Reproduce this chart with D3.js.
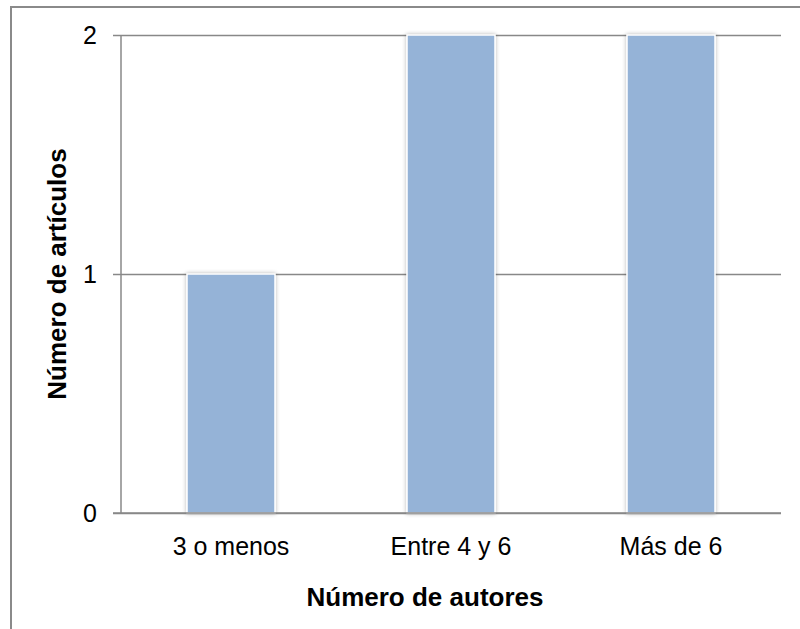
<!DOCTYPE html>
<html>
<head>
<meta charset="utf-8">
<script src="https://cdn.jsdelivr.net/npm/d3@7"></script>
<style>
  html, body { margin: 0; padding: 0; background: #fff; }
  svg { display: block; font-family: "Liberation Sans", Arial, sans-serif; }
</style>
</head>
<body>
<svg id="chart" width="800" height="629"></svg>
<script>
const categories = ["3 o menos", "Entre 4 y 6", "Más de 6"];
const articles = [1, 2, 2];
const yTicks = [0, 1, 2];
const xTitle = "Número de autores";
const yTitle = "Número de artículos";

const svg = d3.select("#chart");
const W = 800, H = 629;
const plot = { left: 121, right: 781, top: 35, bottom: 513 };
const frame = { left: 11, top: 7 };
const FONT = "Liberation Sans, Arial, sans-serif";

// outer chart frame: top and left edges (it runs past the right and bottom edges)
const frameG = svg.append("g").attr("stroke", "#8a8a8a").attr("stroke-width", 2);
frameG.append("line")
  .attr("x1", frame.left - 1).attr("x2", W)
  .attr("y1", frame.top).attr("y2", frame.top);
frameG.append("line")
  .attr("x1", frame.left).attr("x2", frame.left)
  .attr("y1", frame.top - 1).attr("y2", H);

const x = d3.scaleBand().domain(categories)
  .range([plot.left, plot.right]).paddingInner(0.6).paddingOuter(0.3);
const y = d3.scaleLinear().domain([0, 2]).range([plot.bottom, plot.top]);

const defs = svg.append("defs");
const shadow = defs.append("filter").attr("id", "barShadow")
  .attr("x", "-20%").attr("y", "-5%").attr("width", "140%").attr("height", "110%");
shadow.append("feGaussianBlur").attr("in", "SourceAlpha").attr("stdDeviation", 2).attr("result", "b");
shadow.append("feComponentTransfer").attr("in", "b").attr("result", "s")
  .append("feFuncA").attr("type", "linear").attr("slope", 0.3);
const merge = shadow.append("feMerge");
merge.append("feMergeNode").attr("in", "s");
merge.append("feMergeNode").attr("in", "SourceGraphic");

// horizontal gridlines with left tick marks
const yAxis = d3.axisLeft(y).tickValues(yTicks).tickFormat(d3.format("d"))
  .tickSize(-(plot.right - plot.left)).tickPadding(24);
const gy = svg.append("g").attr("transform", `translate(${plot.left},0)`).call(yAxis);
gy.select(".domain").remove();
gy.selectAll(".tick line")
  .attr("x1", -8)
  .attr("stroke", "#888").attr("stroke-width", 1.5);
gy.selectAll(".tick text")
  .attr("font-size", 25).attr("fill", "#000")
  .attr("font-family", FONT);

// vertical axis line
svg.append("line")
  .attr("x1", plot.left).attr("x2", plot.left)
  .attr("y1", plot.top).attr("y2", plot.bottom)
  .attr("stroke", "#888").attr("stroke-width", 1.5);

// bars
svg.append("g").selectAll("rect").data(categories).join("rect")
  .attr("x", d => x(d))
  .attr("y", (d, i) => y(articles[i]))
  .attr("width", x.bandwidth())
  .attr("height", (d, i) => y(0) - y(articles[i]))
  .attr("fill", "#95b3d7")
  .attr("stroke", "#fff").attr("stroke-width", 1.5)
  .attr("filter", "url(#barShadow)");

// redraw baseline over the bars
svg.append("line")
  .attr("x1", plot.left - 8).attr("x2", plot.right)
  .attr("y1", y(0)).attr("y2", y(0))
  .attr("stroke", "#888").attr("stroke-width", 1.5);

// category labels
const xAxis = d3.axisBottom(x).tickSize(0).tickPadding(24);
const gx = svg.append("g").attr("transform", `translate(0,${plot.bottom})`).call(xAxis);
gx.select(".domain").remove();
gx.selectAll(".tick text")
  .attr("font-size", 25).attr("fill", "#000")
  .attr("font-family", FONT);

// axis titles
svg.append("text")
  .attr("x", 425).attr("y", 606)
  .attr("text-anchor", "middle")
  .attr("font-family", FONT)
  .attr("font-size", 26).attr("font-weight", "bold")
  .text(xTitle);

svg.append("text")
  .attr("transform", `translate(66,${(plot.top + plot.bottom) / 2}) rotate(-90)`)
  .attr("text-anchor", "middle")
  .attr("font-family", FONT)
  .attr("font-size", 26).attr("font-weight", "bold")
  .text(yTitle);
</script>
</body>
</html>
